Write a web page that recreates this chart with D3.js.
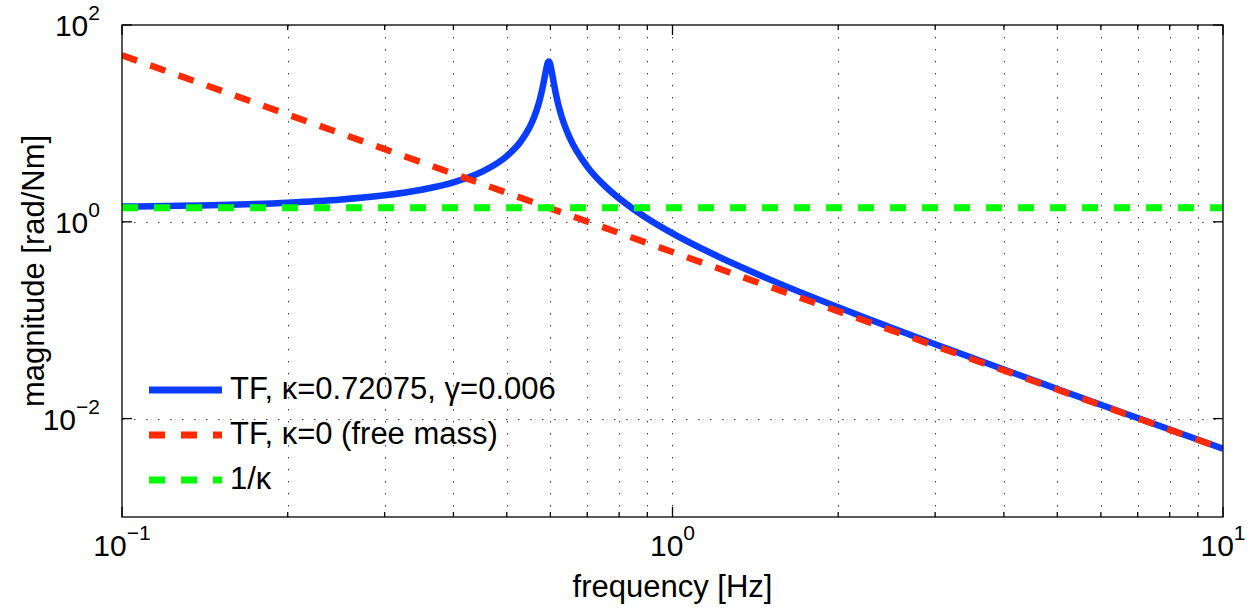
<!DOCTYPE html>
<html>
<head>
<meta charset="utf-8">
<script src="https://cdn.jsdelivr.net/npm/d3@7"></script>
<style>
  html, body { margin: 0; padding: 0; background: #fff; }
  text { font-family: "Liberation Sans", Arial, Helvetica, sans-serif; fill: #000; }
</style>
</head>
<body>
<svg id="chart" width="1256" height="611"></svg>
<script>
// ---- data ----
const freqTF = [0.1, 0.15, 0.2, 0.25, 0.3, 0.35, 0.4, 0.45, 0.5, 0.53, 0.55, 0.56, 0.57, 0.575, 0.58, 0.585, 0.59, 0.593, 0.596, 0.599, 0.6, 0.605, 0.61, 0.615, 0.62, 0.63, 0.65, 0.7, 0.75, 0.8, 0.85, 0.9, 1.0, 1.2, 1.5, 2, 3, 5, 7, 10];
const magTF  = [1.427, 1.481, 1.563, 1.683, 1.858, 2.117, 2.519, 3.216, 4.654, 6.55, 9.13, 11.4, 15.19, 18.14, 22.3, 28.3, 36.2, 40.7, 42.5, 40.65, 39.3, 31.1, 24.1, 19.12, 15.69, 11.39, 7.22, 3.641, 2.373, 1.730, 1.341, 1.083, 0.764, 0.454, 0.260, 0.1352, 0.0570, 0.0200, 0.01013, 0.00494];
const freqFree = [0.1, 1, 10];
const magFree  = [49.3, 0.493, 0.00493];
const freqInv = [0.1, 10];
const magInv  = [1.387, 1.387];

const xMajor = [0.1, 1, 10];
const xMajorExp = ["\u22121", "0", "1"];
const yMajor = [0.01, 1, 100];
const yMajorExp = ["\u22122", "0", "2"];
const legendLabels = ["TF, \u03BA=0.72075, \u03B3=0.006", "TF, \u03BA=0 (free mass)", "1/\u03BA"];
const xLabel = "frequency [Hz]";
const yLabel = "magnitude [rad/Nm]";

// ---- layout ----
const L = 122, R = 1223, T = 25, B = 517;
const svg = d3.select("#chart");
const x = d3.scaleLog().domain([0.1, 10]).range([L, R]);
const y = d3.scaleLog().domain([0.001, 100]).range([B, T]);

const xMinor = [];
for (let d = 0.1; d < 10; d *= 10) for (let k = 2; k <= 9; k++) xMinor.push(+(d * k).toPrecision(3));

// grid
const grid = svg.append("g").attr("stroke", "#444").attr("stroke-width", 1).attr("stroke-dasharray", "1.5,10.5");
xMinor.concat([1]).forEach(v => {
  grid.append("line").attr("x1", Math.round(x(v)) + 0.5).attr("x2", Math.round(x(v)) + 0.5).attr("y1", T).attr("y2", B);
});
[0.01, 1].forEach(v => {
  grid.append("line").attr("y1", Math.round(y(v)) + 0.5).attr("y2", Math.round(y(v)) + 0.5).attr("x1", L).attr("x2", R);
});

// clip
svg.append("clipPath").attr("id", "clip").append("rect").attr("x", L).attr("y", T).attr("width", R - L).attr("height", B - T);

const line = d3.line().x(d => x(d[0])).y(d => y(d[1])).curve(d3.curveMonotoneX);
const straight = d3.line().x(d => x(d[0])).y(d => y(d[1]));
const plot = svg.append("g").attr("clip-path", "url(#clip)");

const colBlue = "#0a3cff", colRed = "#ff2a00", colGreen = "#00ff00";

plot.append("path").datum(freqTF.map((f, i) => [f, magTF[i]]))
  .attr("d", line).attr("fill", "none").attr("stroke", colBlue).attr("stroke-width", 6.5)
  .attr("stroke-linejoin", "round");
plot.append("path").datum(freqFree.map((f, i) => [f, magFree[i]]))
  .attr("d", straight).attr("fill", "none").attr("stroke", colRed).attr("stroke-width", 6.5)
  .attr("stroke-dasharray", "16,14");
plot.append("path").datum(freqInv.map((f, i) => [f, magInv[i]]))
  .attr("d", straight).attr("fill", "none").attr("stroke", colGreen).attr("stroke-width", 7)
  .attr("stroke-dasharray", "16,16");

// axes box and ticks
const ax = svg.append("g").attr("stroke", "#000").attr("stroke-width", 1.3).attr("fill", "none");
ax.append("rect").attr("x", L).attr("y", T).attr("width", R - L).attr("height", B - T);
xMajor.forEach(v => {
  const px = x(v);
  ax.append("line").attr("x1", px).attr("x2", px).attr("y1", B).attr("y2", B - 10);
  ax.append("line").attr("x1", px).attr("x2", px).attr("y1", T).attr("y2", T + 10);
});
xMinor.forEach(v => {
  const px = x(v);
  ax.append("line").attr("x1", px).attr("x2", px).attr("y1", B).attr("y2", B - 5);
  ax.append("line").attr("x1", px).attr("x2", px).attr("y1", T).attr("y2", T + 5);
});
yMajor.forEach(v => {
  const py = y(v);
  ax.append("line").attr("x1", L).attr("x2", L + 10).attr("y1", py).attr("y2", py);
  ax.append("line").attr("x1", R).attr("x2", R - 10).attr("y1", py).attr("y2", py);
});

// tick labels
xMajor.forEach((v, i) => {
  const t = svg.append("text").attr("x", x(v)).attr("y", 556).attr("text-anchor", "middle").attr("font-size", 30);
  t.append("tspan").text("10");
  t.append("tspan").attr("font-size", 21).attr("dy", -16).text(xMajorExp[i]);
});
yMajor.forEach((v, i) => {
  const t = svg.append("text").attr("x", 100).attr("y", y(v) + 11).attr("text-anchor", "end").attr("font-size", 30);
  t.append("tspan").text("10");
  t.append("tspan").attr("font-size", 21).attr("dy", -16).text(yMajorExp[i]);
});

// axis labels
svg.append("text").attr("x", (L + R) / 2).attr("y", 597).attr("text-anchor", "middle").attr("font-size", 31).text(xLabel);
svg.append("text").attr("transform", "translate(44," + ((T + B) / 2) + ") rotate(-90)")
  .attr("text-anchor", "middle").attr("font-size", 31).text(yLabel);

// legend
const legY = [390, 435, 480];
const legCols = [colBlue, colRed, colGreen];
const legDash = [null, "16,16", "16,16"];
legendLabels.forEach((lab, i) => {
  const ln = svg.append("line").attr("x1", 149).attr("x2", 222).attr("y1", legY[i]).attr("y2", legY[i])
    .attr("stroke", legCols[i]).attr("stroke-width", 7);
  if (legDash[i]) ln.attr("stroke-dasharray", legDash[i]);
  svg.append("text").attr("x", 230).attr("y", legY[i] + 9).attr("font-size", 31).text(lab);
});
</script>
</body>
</html>
